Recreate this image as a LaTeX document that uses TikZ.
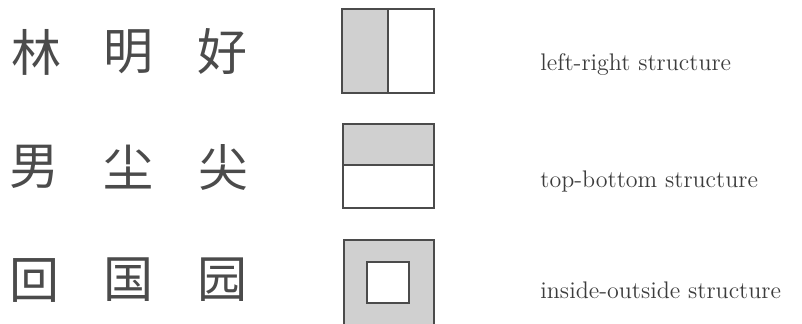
\documentclass[tikz,border=0pt]{standalone}
\usepackage{fontspec}
\newfontfamily\cjk{Noto Sans CJK SC}
\usetikzlibrary{positioning}
\definecolor{InkGray}{RGB}{75,75,75}
\definecolor{ShadeGray}{RGB}{208,208,208}

\begin{document}
\begin{tikzpicture}[x=0.5pt,y=-0.5pt,
    hanzi/.style={inner sep=0pt,text=InkGray,font=\cjk\fontsize{25}{25}\selectfont},
    label/.style={anchor=base west,inner sep=0pt,text=InkGray!80!black,font=\fontsize{12}{14}\selectfont},
    frame/.style={draw=InkGray,line width=0.75pt}]
      \useasboundingbox (0,0) rectangle (802,323);
      \clip (0,0) rectangle (802,323);
      % characters
      \foreach \c/\x/\y/\n in {林/36/52/a1,明/128/52/a2,好/222/52/a3,
                               男/35/167/b1,尘/128/167/b2,尖/223/167/b3,
                               回/35/280/c1,国/128/280/c2,园/222/280/c3}
        {\node[hanzi] (\n) at (\x,\y) {\c};}
      % left-right
      \fill[ShadeGray] (342,9) rectangle (388,93);
      \draw[frame] (342,9) rectangle (434,93) (388,9)--(388,93);
      \node[label] (lr) at (540,70) {left-right structure};
      % top-bottom
      \fill[ShadeGray] (343,124) rectangle (434,165);
      \draw[frame] (343,124) rectangle (434,208) (343,165)--(434,165);
      \node[label] (tb) at (540,187) {top-bottom structure};
      % inside-outside
      \fill[ShadeGray] (344,240) rectangle (434,340);
      \fill[white] (367,262) rectangle (409,303);
      \draw[frame] (344,340)--(344,240)--(434,240)--(434,340);
      \draw[frame] (367,262) rectangle (409,303);
      \node[label] (io) at (540,298) {inside-outside structure};
    \end{tikzpicture}
\end{document}
